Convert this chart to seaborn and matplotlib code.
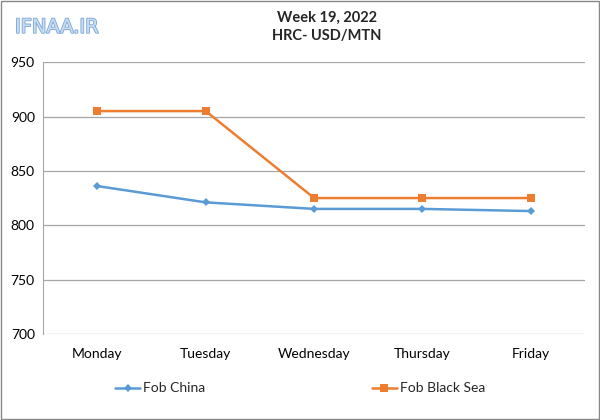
import pandas as pd
import matplotlib.pyplot as plt
import seaborn as sns
from matplotlib import patheffects

days = ['Monday', 'Tuesday', 'Wednesday', 'Thursday', 'Friday']
fob_china = [836, 821, 815, 815, 813]
fob_black_sea = [905, 905, 825, 825, 825]
y_ticks = [700, 750, 800, 850, 900, 950]

df = pd.DataFrame({
	'Day': days * 2,
	'Price': fob_china + fob_black_sea,
	'Series': ['Fob China'] * len(days) + ['Fob Black Sea'] * len(days),
})

sns.set_style('white')
plt.rcParams['font.family'] = ['Lato', 'DejaVu Sans']

fig = plt.figure(figsize=(6, 4.2), dpi=100)
ax = fig.add_axes([0.072, 0.205, 0.903, 0.647])

palette = {'Fob China': '#5B9BD5', 'Fob Black Sea': '#ED7D31'}
markers = {'Fob China': 'D', 'Fob Black Sea': 's'}
sizes = {'Fob China': 4, 'Fob Black Sea': 6}
sns.lineplot(data=df, x='Day', y='Price', hue='Series', style='Series',
	markers=markers, dashes=False, palette=palette, linewidth=1.8,
	markersize=6, markeredgewidth=0, sort=False, ax=ax, legend=False)
# smaller diamonds like the reference
for line in ax.get_lines():
	if line.get_marker() == 'D':
		line.set_markersize(sizes['Fob China'])

ax.set_xlim(-0.5, len(days) - 0.5)
ax.set_ylim(700, 950)
ax.set_yticks(y_ticks)
ax.yaxis.grid(True, color='#A6A6A6', linewidth=0.9)
ax.set_axisbelow(True)
ax.set_xlabel('')
ax.set_ylabel('')
for side in ['top', 'right', 'bottom']:
	ax.spines[side].set_visible(False)
ax.spines['left'].set_color('#A6A6A6')
ax.tick_params(axis='both', labelsize=10, colors='#000000', length=0, pad=6)
ax.tick_params(axis='x', pad=10)

fig.text(0.545, 0.958, 'Week 19, 2022', ha='center', va='center', fontsize=10.5, fontweight='bold')
fig.text(0.545, 0.914, 'HRC- USD/MTN', ha='center', va='center', fontsize=10.5, fontweight='bold')

wm = fig.text(0.025, 0.935, 'IFNAA.IR', ha='left', va='center', fontsize=14,
	color='#C9DDF2', family='DejaVu Sans')
wm.set_path_effects([patheffects.withStroke(linewidth=1.3, foreground='#7FA9D8')])

handles = [plt.Line2D([], [], color=palette[s], marker=markers[s], linewidth=1.8,
	markersize=sizes[s], markeredgewidth=0) for s in palette]
fig.legend(handles, list(palette.keys()), loc='center', bbox_to_anchor=(0.50, 0.075),
	ncol=2, frameon=False, fontsize=10, columnspacing=12, handlelength=1.8, handletextpad=0.2)

border = plt.Rectangle((0.002, 0.002), 0.996, 0.996, transform=fig.transFigure,
	fill=False, edgecolor='#888888', linewidth=1)
fig.patches.append(border)

fig.savefig('out.png', dpi=100)
